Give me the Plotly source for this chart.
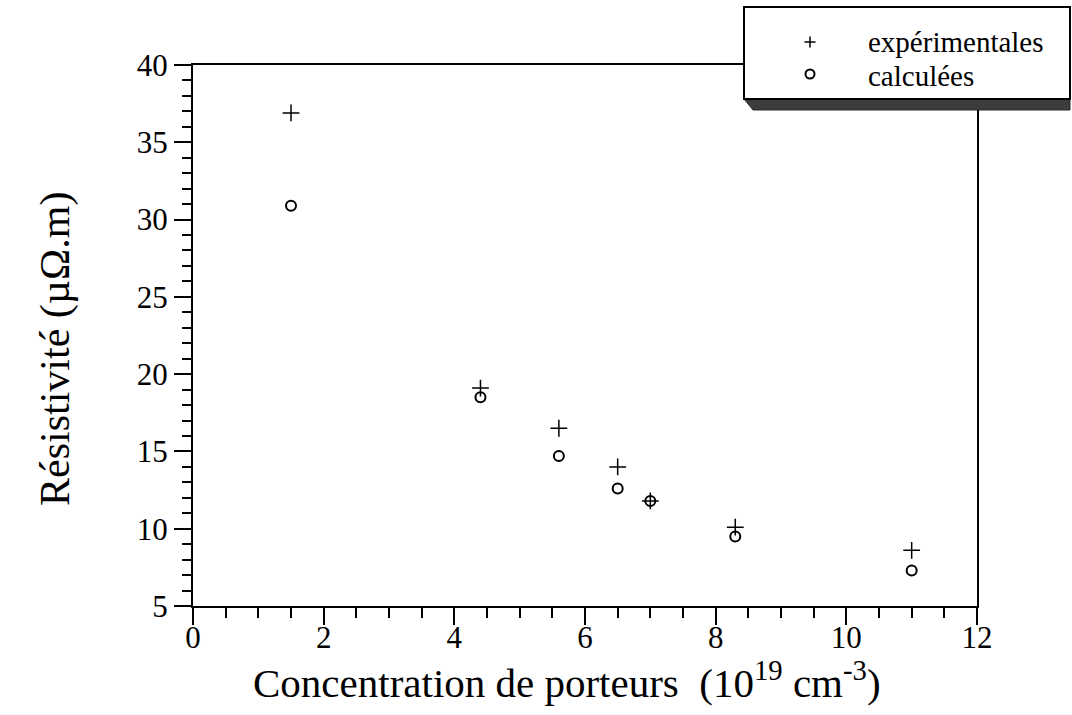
import plotly.graph_objects as go

# Data
concentration = [1.5, 4.4, 5.6, 6.5, 7.0, 8.3, 11.0]
rho_exp = [36.9, 19.1, 16.5, 14.0, 11.8, 10.1, 8.6]
rho_calc = [30.9, 18.5, 14.7, 12.6, 11.8, 9.5, 7.3]
series_names = ["expérimentales", "calculées"]
x_title = "Concentration de porteurs  (10<sup>19</sup> cm<sup>-3</sup>)"
y_title = "Résistivité (µΩ.m)"

W, H = 1072, 715
L, R, T, B = 193, 977, 65, 606  # plot area in pixels


def px(xp):
    return (xp - L) / (R - L)


def py(yp):
    return (B - yp) / (B - T)


FONT = "Liberation Serif, Times New Roman, serif"

fig = go.Figure()
fig.add_trace(go.Scatter(
    x=concentration, y=rho_exp, mode="markers", name=series_names[0],
    marker=dict(symbol="cross-thin-open", size=12, color="black",
                line=dict(color="black", width=1.5)),
))
fig.add_trace(go.Scatter(
    x=concentration, y=rho_calc, mode="markers", name=series_names[1],
    marker=dict(symbol="circle-open", size=10, color="black",
                line=dict(color="black", width=2)),
))

axis_common = dict(
    showgrid=False, zeroline=False, showline=True, linecolor="black",
    linewidth=2, mirror=True, ticks="outside", tickcolor="black",
    tickwidth=2, ticklen=17,
    tickfont=dict(family=FONT, size=31, color="black"),
)
fig.update_xaxes(range=[0, 12], dtick=2, tick0=0, ticklabelstandoff=-14,
                 minor=dict(dtick=0.5, ticklen=10, tickwidth=2,
                            tickcolor="black", ticks="outside"),
                 **axis_common)
fig.update_yaxes(range=[5, 40], dtick=5, tick0=5,
                 minor=dict(dtick=1, ticklen=9, tickwidth=2,
                            tickcolor="black", ticks="outside"),
                 **axis_common)

# Legend box with shadow
box_l, box_r, box_t, box_b, shadow_b = 744, 1070, 7, 99, 110
fig.add_shape(type="path", xref="paper", yref="paper", layer="above",
              path=(f"M {px(box_l)},{py(box_b)} L {px(box_r)},{py(box_b)} "
                    f"L {px(box_r)},{py(shadow_b)} L {px(box_l + 9)},{py(shadow_b)} Z"),
              fillcolor="#3c3c3c", line=dict(color="#2a2a2a", width=1))
fig.add_shape(type="rect", xref="paper", yref="paper", layer="above",
              x0=px(box_l), x1=px(box_r), y0=py(box_b), y1=py(box_t),
              fillcolor="white", line=dict(color="black", width=2))

# Legend symbols
sym_x, row1, row2 = 810, 42, 74
fig.add_shape(type="line", xref="paper", yref="paper", layer="above",
              x0=px(sym_x - 5.5), x1=px(sym_x + 5.5), y0=py(row1), y1=py(row1),
              line=dict(color="black", width=1.5))
fig.add_shape(type="line", xref="paper", yref="paper", layer="above",
              x0=px(sym_x), x1=px(sym_x), y0=py(row1 - 5.5), y1=py(row1 + 5.5),
              line=dict(color="black", width=1.5))
fig.add_shape(type="circle", xref="paper", yref="paper", layer="above",
              x0=px(sym_x - 4.5), x1=px(sym_x + 4.5), y0=py(row2 + 4.5), y1=py(row2 - 4.5),
              line=dict(color="black", width=2))

# Legend texts
for name, yrow in zip(series_names, [row1 - 1, row2 + 1]):
    fig.add_annotation(text=name, xref="paper", yref="paper",
                       x=px(866), y=py(yrow + 1), xanchor="left", yanchor="middle",
                       showarrow=False,
                       font=dict(family=FONT, size=29, color="black"))

fig.update_layout(
    width=W, height=H,
    margin=dict(l=L, r=W - R, t=T, b=H - B, pad=0),
    plot_bgcolor="white", paper_bgcolor="white",
    showlegend=False,
    font=dict(family=FONT, color="black"),
)

fig.add_annotation(text=x_title, xref="paper", yref="paper",
                   x=px(567), y=py(680), xanchor="center", yanchor="middle",
                   showarrow=False, font=dict(family=FONT, size=41, color="black"))
fig.add_annotation(text=y_title, xref="paper", yref="paper",
                   x=px(55), y=py(349), xanchor="center", yanchor="middle",
                   textangle=-90, showarrow=False,
                   font=dict(family=FONT, size=42, color="black"))

fig.write_html("out.html", config={"displayModeBar": False},
               post_script="document.body.style.margin='0';")
